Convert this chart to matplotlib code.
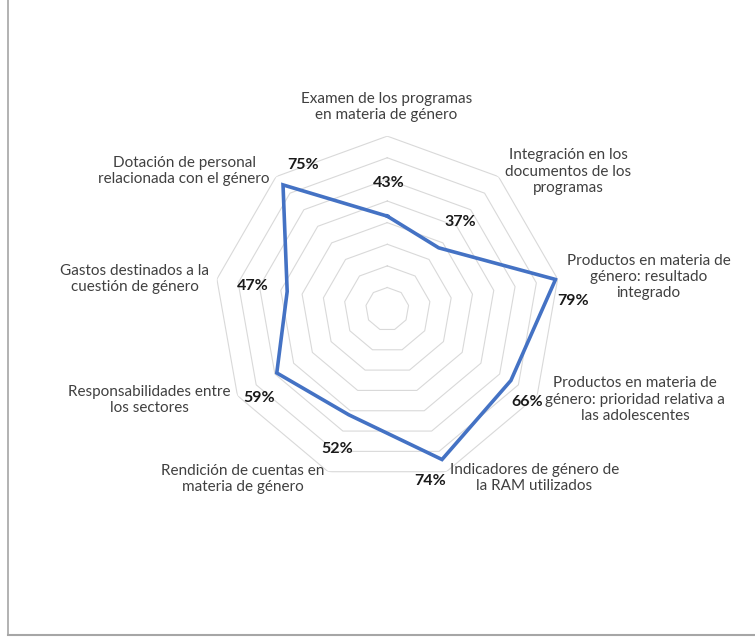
import numpy as np
import matplotlib
matplotlib.use("Agg")
import matplotlib.pyplot as plt
from matplotlib.lines import Line2D

plt.rcParams['font.family'] = ['Lato', 'DejaVu Sans']

categories = [
    "Examen de los programas\nen materia de género",
    "Integración en los\ndocumentos de los\nprogramas",
    "Productos en materia de\ngénero: resultado\nintegrado",
    "Productos en materia de\ngénero: prioridad relativa a\nlas adolescentes",
    "Indicadores de género de\nla RAM utilizados",
    "Rendición de cuentas en\nmateria de género",
    "Responsabilidades entre\nlos sectores",
    "Gastos destinados a la\ncuestión de género",
    "Dotación de personal\nrelacionada con el género",
]
values = [0.43, 0.37, 0.79, 0.66, 0.74, 0.52, 0.59, 0.47, 0.75]
ring_levels = [0.1, 0.2, 0.3, 0.4, 0.5, 0.6, 0.7, 0.8]

# pixel offsets for category names (from outer vertex) and value labels (from point)
cat_offsets = [(-1, 29), (70, 5), (91, 2), (98, -4), (88, -6),
               (-85, -7), (-88, -4), (-82, 0), (-92, 6)]
val_offsets = [(1, 33), (22, 26), (18, -22), (16, -21), (-12, -21),
               (-12, -34), (-18, -25), (-34, 5), (20, 20)]

n = len(categories)
angles = np.arange(n) * 2 * np.pi / n

fig = plt.figure(figsize=(7.55, 6.37), dpi=100)
ax = fig.add_axes([0.2838, 0.2431, 0.4583, 0.5432], projection='polar')
ax.set_theta_zero_location('N')
ax.set_theta_direction(-1)
ax.set_ylim(0, ring_levels[-1])
ax.axis('off')

# polygonal rings only, no spokes
closed = np.append(angles, angles[0])
for lv in ring_levels:
    ax.plot(closed, [lv] * len(closed), color='#d9d9d9', lw=0.8, zorder=1)

ax.plot(closed, values + values[:1], color='#4472C4', lw=2.6, zorder=3,
        solid_joinstyle='miter')

for a, name, off in zip(angles, categories, cat_offsets):
    ax.annotate(name, xy=(a, ring_levels[-1]), xytext=off, textcoords='offset pixels',
                ha='center', va='center', fontsize=11, color='#404040',
                linespacing=1.2, annotation_clip=False)

for a, v, off in zip(angles, values, val_offsets):
    ax.annotate(f"{round(v * 100)}%", xy=(a, v), xytext=off, textcoords='offset pixels',
                ha='center', va='center', fontsize=11.5, fontweight='bold',
                color='#1a1a1a', annotation_clip=False)

# chart frame
fig.add_artist(Line2D([8 / 755, 8 / 755], [2 / 637, 1], color='#a6a6a6', lw=1.2))
fig.add_artist(Line2D([8 / 755, 1], [2 / 637, 2 / 637], color='#a6a6a6', lw=1.5))

fig.savefig('out.png', dpi=100, facecolor='white')
